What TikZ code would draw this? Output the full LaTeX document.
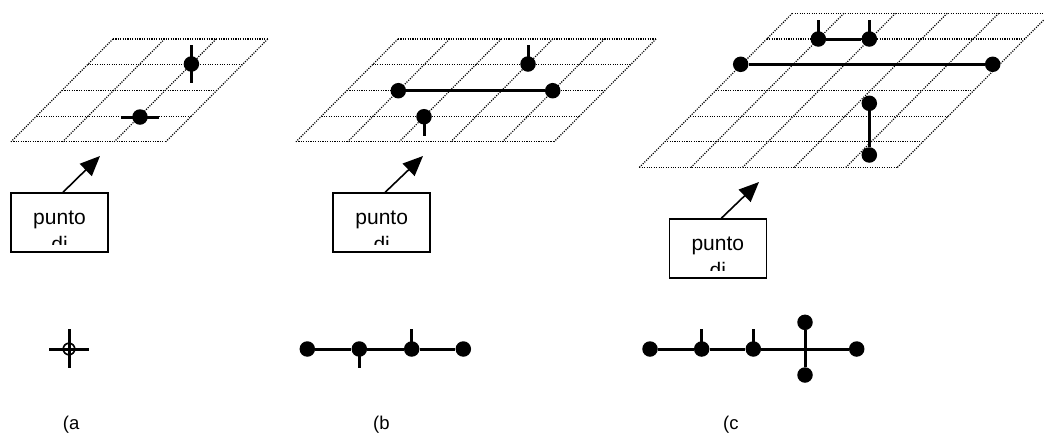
\documentclass[tikz,border=0pt]{standalone}
\usepackage{fontspec}
\setmainfont{Liberation Sans}
\usetikzlibrary{arrows.meta}

% slanted dotted grid: top-left x, top-left y, columns, rows
\newcommand\slantgrid[4]{%
  \foreach \r in {0,...,#4}
    \draw[gridline] ({#1-25.5*\r},{#2+25.7*\r}) -- ++({51.6*#3},0);
  \foreach \c in {0,...,#3}
    \draw[gridline] ({#1+51.6*\c},#2) -- ++({-25.5*#4},{25.7*#4});
}

\tikzset{
  gridline/.style={line width=1.2pt, dash pattern=on 1.1pt off 1.3pt},
  dot/.style={circle, fill=black, inner sep=0pt, minimum size=15.5pt},
  link/.style={line width=3pt},
  stem/.style={line width=3pt},
  box/.style={draw, line width=1.5pt, minimum width=97pt, minimum height=59pt, inner sep=0pt, fill=white},
  boxtext/.style={align=center, anchor=base, inner sep=0pt, font=\fontsize{21}{27}\selectfont},
  pointer/.style={line width=1.6pt, -{Triangle[length=20pt,width=17pt]}},
  caption/.style={anchor=base west, inner sep=0pt, font=\fontsize{18.5}{22}\selectfont}
}

\begin{document}
\begin{tikzpicture}[x=1pt,y=-1pt]
\useasboundingbox (0,0) rectangle (1044,432);
\clip (0,0) rectangle (1044,432);

% ---------- grids ----------
\slantgrid{113}{39}{3}{4}
\slantgrid{398}{39}{5}{4}
\slantgrid{792.3}{13.3}{5}{6}

% ---------- (a) on the grid ----------
\node[dot] (a1) at (191.4,64) {};
\draw[stem] (191.4,45) -- (191.4,83);
\node[dot] (a2) at (140,117) {};
\draw[stem] (121,117) -- (159,117);

% ---------- (b) on the grid ----------
\node[dot] (b1) at (528,64) {};
\draw[stem] (b1.center) -- ++(0,-19);
\node[dot] (b2) at (398.3,90.7) {};
\node[dot] (b3) at (552.7,90.7) {};
\draw[link] (b2) -- (b3);
\node[dot] (b4) at (424,116.7) {};
\draw[stem] (b4.center) -- ++(0,19);

% ---------- (c) on the grid ----------
\node[dot] (c1) at (818.3,39) {};
\node[dot] (c2) at (869.3,39) {};
\draw[stem] (c1.center) -- ++(0,-19);
\draw[stem] (c2.center) -- ++(0,-19);
\draw[link] (c1) -- (c2);
\node[dot] (c3) at (740.7,64.3) {};
\node[dot] (c4) at (992.7,64.3) {};
\draw[link] (c3) -- (c4);
\node[dot] (c5) at (869.3,103.3) {};
\node[dot] (c6) at (869.3,155) {};
\draw[link] (c5) -- (c6);

% ---------- labelled boxes with arrows ----------
\node[box] (ba) at (59.5,222.5) {};
\node[box] (bb) at (381.7,222.5) {};
\node[box] (bc) at (717.8,248.5) {};
% the two-line label overflows its text area and is cut short of the bottom edge
\foreach \b in {ba,bb,bc}{
  \begin{scope}
    \clip ([yshift=8pt]\b.south west) rectangle (\b.north east);
    \node[boxtext] at ([yshift=-59pt]\b.north) {punto\\di};
  \end{scope}
}
\coordinate (ta) at (100,156);
\coordinate (tb) at (423,156);
\coordinate (tc) at (759,182);
\draw[pointer] ([xshift=3.5pt]ba.north) -- (ta);
\draw[pointer] ([xshift=3.5pt]bb.north) -- (tb);
\draw[pointer] ([xshift=3.5pt]bc.north) -- (tc);

% ---------- bottom row: (a) ----------
\node[circle, draw, line width=1.7pt, minimum size=11.5pt, inner sep=0pt] (pa) at (69,349) {};
\draw[stem] (69,329.3) -- (69,367.7);
\draw[stem] (49.3,349) -- (89.3,349);

% ---------- bottom row: (b) ----------
\node[dot] (q1) at (307.3,349) {};
\node[dot] (q2) at (359.3,349) {};
\node[dot] (q3) at (411.7,349) {};
\node[dot] (q4) at (463.3,349) {};
\draw[link] (q1) -- (q2) -- (q3) -- (q4);
\draw[stem] (q2.center) -- ++(0,18.7);
\draw[stem] (q3.center) -- ++(0,-19.7);

% ---------- bottom row: (c) ----------
\node[dot] (r1) at (650,349) {};
\node[dot] (r2) at (701.7,349) {};
\node[dot] (r3) at (753.3,349) {};
\coordinate (rx) at (805,349);
\node[dot] (r4) at (856.7,349) {};
\node[dot] (r5) at (805,322.3) {};
\node[dot] (r6) at (805,375) {};
\draw[link] (r1) -- (r2) -- (r3) -- (r4);
\draw[link] (r5) -- (r6);
\draw[stem] (r2.center) -- ++(0,-19.7);
\draw[stem] (r3.center) -- ++(0,-19.7);

% ---------- captions ----------
\node[caption] (la) at (62.7,429.5) {(a};
\node[caption] (lb) at (373,429.5) {(b};
\node[caption] (lc) at (723,429.5) {(c};
\end{tikzpicture}
\end{document}
